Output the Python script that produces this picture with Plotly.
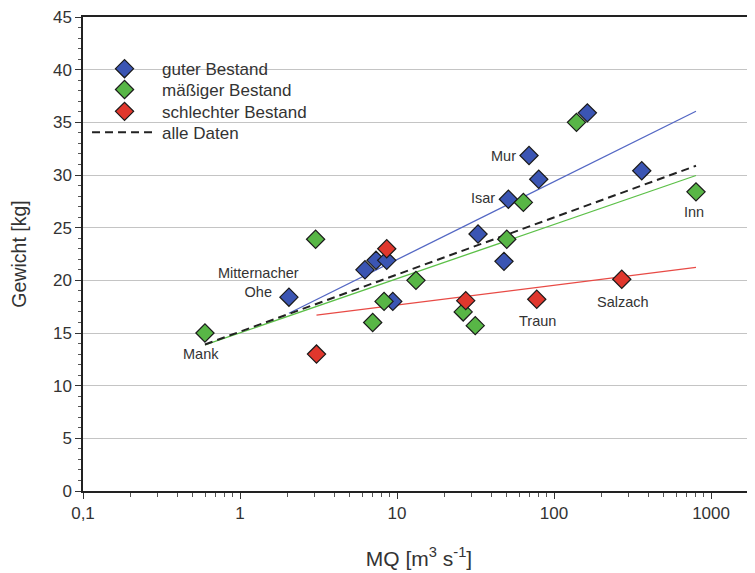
import numpy as np
import plotly.graph_objects as go

# ---- data (MQ in m^3/s, Gewicht in kg) ----
good_mq = [2.05, 6.25, 7.35, 8.6, 9.4, 32.8, 48, 51.2, 69.3, 79.9, 163, 362]
good_w = [18.4, 21.0, 21.9, 21.9, 18.0, 24.4, 21.8, 27.7, 31.85, 29.6, 35.9, 30.4]
good_lbl = ["Mitternacher<br>Ohe", "", "", "", "", "", "", "Isar", "Mur", "", "", ""]

mod_mq = [0.598, 3.03, 7.0, 8.27, 13.2, 26.4, 31.5, 50, 63.8, 139, 802]
mod_w = [15.0, 23.9, 16.0, 18.0, 20.0, 17.0, 15.7, 23.9, 27.4, 35.0, 28.4]
mod_lbl = ["Mank", "", "", "", "", "", "", "", "", "", "Inn"]

bad_mq = [3.07, 8.6, 27.4, 77.6, 270]
bad_w = [13.0, 23.0, 18.07, 18.2, 20.1]
bad_lbl = ["", "", "", "Traun", "Salzach"]

x_ticks = [0.1, 1, 10, 100, 1000]
x_ticktext = ["0,1", "1", "10", "100", "1000"]

names = ["guter Bestand", "mäßiger Bestand", "schlechter Bestand", "alle Daten"]
colors = ["#3b55b3", "#58b646", "#e0372d"]
line_colors = ["#5468c4", "#5cc048", "#e84a45"]

# label offsets in pixels (xshift, yshift)
label_offsets = {
    "Mitternacher<br>Ohe": (-30, 15),
    "Mank": (-4, -21),
    "Mur": (-26, 0),
    "Isar": (-25, 1),
    "Inn": (-2, -20),
    "Traun": (1, -22),
    "Salzach": (1, -23),
}

# legend row positions (paper y) for the four entries
legend_rows = [0.890, 0.846, 0.800, 0.756]

groups = [(good_mq, good_w, good_lbl), (mod_mq, mod_w, mod_lbl), (bad_mq, bad_w, bad_lbl)]
all_mq = np.array(good_mq + mod_mq + bad_mq)
all_w = np.array(good_w + mod_w + bad_w)
xmax = all_mq.max()

fig = go.Figure()


def fit_line(mq, w, x0, x1):
    lx = np.log10(np.asarray(mq))
    b, a = np.polyfit(lx, np.asarray(w), 1)
    xs = np.array([x0, x1])
    return xs, a + b * np.log10(xs)


legend_ids = ["legend", "legend2", "legend3", "legend4"]

# regression lines
for (mq, w, _), lc in zip(groups, line_colors):
    xs, ys = fit_line(mq, w, min(mq), xmax)
    fig.add_trace(go.Scatter(x=xs, y=ys, mode="lines", line=dict(color=lc, width=1.3),
                             showlegend=False, hoverinfo="skip"))

xs, ys = fit_line(all_mq, all_w, all_mq.min(), xmax)
fig.add_trace(go.Scatter(x=xs, y=ys, mode="lines", name=names[3],
                         line=dict(color="#222222", width=2, dash="8px,5px"),
                         legend=legend_ids[3]))

# points
for i, ((mq, w, _), c) in enumerate(zip(groups, colors)):
    fig.add_trace(go.Scatter(x=mq, y=w, mode="markers", name=names[i],
                             marker=dict(symbol="diamond", size=14, color=c,
                                         line=dict(color="#1a1a1a", width=1.2)),
                             legend=legend_ids[i]))

# labels
for mq, w, lbl in groups:
    for xv, yv, t in zip(mq, w, lbl):
        if t:
            dx, dy = label_offsets[t]
            fig.add_annotation(x=np.log10(xv), y=yv, text=t, showarrow=False,
                               xshift=dx, yshift=dy, align="center",
                               font=dict(size=14.5, color="#333333"))

legend_style = dict(x=0.006, xanchor="left", yanchor="middle",
                    bgcolor="rgba(0,0,0,0)", font=dict(size=17, color="#333333"),
                    itemwidth=65)

fig.update_layout(
    width=747, height=565,
    margin=dict(l=75, r=0, t=9, b=82),
    plot_bgcolor="white", paper_bgcolor="white",
    font=dict(family="Liberation Sans, Arial, sans-serif", color="#333333"),
    showlegend=True,
    legend=dict(y=legend_rows[0], **legend_style),
    legend2=dict(y=legend_rows[1], **legend_style),
    legend3=dict(y=legend_rows[2], **legend_style),
    legend4=dict(y=legend_rows[3], **legend_style),
)

fig.update_xaxes(
    type="log", range=[-1, 3.28],
    tickvals=x_ticks, ticktext=x_ticktext,
    ticks="outside", ticklen=6, tickcolor="#333333",
    minor=dict(ticks="outside", ticklen=4, tickcolor="#555555", dtick="D1", showgrid=False),
    showgrid=False, showline=True, linecolor="#222222", linewidth=1.5, mirror=True,
    tickfont=dict(size=17), zeroline=False, ticklabeloverflow="allow",
    title=dict(text="MQ [m<sup>3</sup> s<sup>-1</sup>]", font=dict(size=21), standoff=29),
)
fig.update_yaxes(
    range=[0, 45], dtick=5,
    ticks="outside", ticklen=6, tickcolor="#333333",
    minor=dict(ticks="outside", ticklen=3, tickcolor="#555555", dtick=1, showgrid=False),
    showgrid=True, gridcolor="#c4c4c4", gridwidth=1,
    showline=True, linecolor="#222222", linewidth=1.5, zeroline=False,
    tickfont=dict(size=17), ticklabeloverflow="allow",
    title=dict(text="Gewicht [kg]", font=dict(size=19.5), standoff=21),
)

fig.write_html("out.html")
